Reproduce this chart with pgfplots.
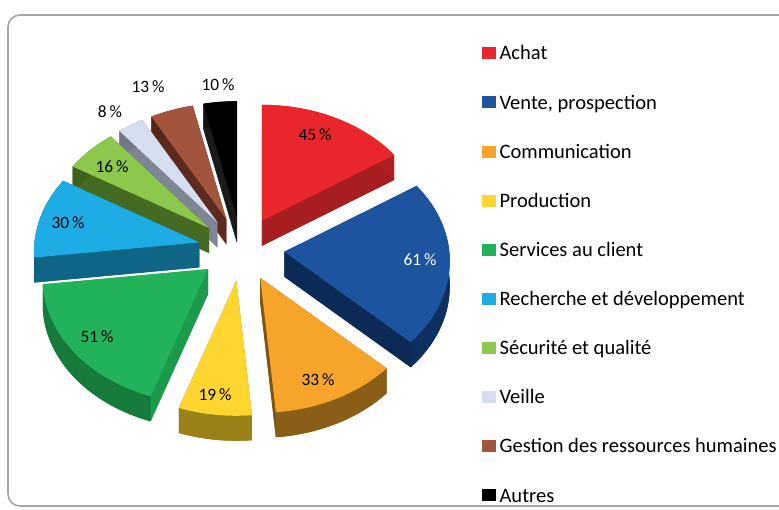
\documentclass[border=0pt]{standalone}
\usepackage{pgfplots}
\pgfplotsset{compat=1.18}
\usepackage{pgfplotstable}
\usepackage{fontspec}
\setmainfont{Carlito}

\definecolor{top0}{HTML}{E8262B}\definecolor{side0}{HTML}{A81D1F}\definecolor{wall0}{HTML}{B01E20}
\definecolor{top1}{HTML}{1D54A0}\definecolor{side1}{HTML}{0B2A55}\definecolor{wall1}{HTML}{0E3060}
\definecolor{top2}{HTML}{F6A52A}\definecolor{side2}{HTML}{7D5512}\definecolor{wall2}{HTML}{8A5E16}
\definecolor{top3}{HTML}{FFD530}\definecolor{side3}{HTML}{8A7417}\definecolor{wall3}{HTML}{9A8219}
\definecolor{top4}{HTML}{22B25A}\definecolor{side4}{HTML}{1A9A4A}\definecolor{wall4}{HTML}{157A3C}
\definecolor{top5}{HTML}{1DADE4}\definecolor{side5}{HTML}{0E6585}\definecolor{wall5}{HTML}{0B5A78}
\definecolor{top6}{HTML}{8CC84B}\definecolor{side6}{HTML}{456B22}\definecolor{wall6}{HTML}{3E611E}
\definecolor{top7}{HTML}{D5DEEE}\definecolor{side7}{HTML}{7E8594}\definecolor{wall7}{HTML}{707786}
\definecolor{top8}{HTML}{A3543C}\definecolor{side8}{HTML}{5C2A1E}\definecolor{wall8}{HTML}{52261B}
\definecolor{top9}{HTML}{000000}\definecolor{side9}{HTML}{1A1A1A}\definecolor{wall9}{HTML}{111111}

% values (%) and label positions (pixels, from top-left)
\pgfplotstableread[col sep=semicolon]{
val;lx;ly;lcol
45;315;135;black
61;420;260;white
33;318;380;black
19;215;395;black
51;97;337;black
30;68;223;black
16;112;167;black
8;110;112;black
13;148;87;black
10;218;85;black
}\piedata

% geometry in pixel units (axis units, y up)
\def\pcx{241.5}\def\pcy{261}      % projected pie centre
\def\pA{165}\def\pB{124.8}\def\pp{0.0758} % perspective circle
\def\pex{43}\def\pey{32}\def\ph{25}
\pgfmathsetmacro\eax{\pA/sqrt(1-\pp*\pp)}
\pgfmathsetmacro\eay{\pB/(1-\pp*\pp)}
\pgfmathsetmacro\ecy{-\pB*\pp/(1-\pp*\pp)}
\pgfmathsetmacro\RXpt{\eax*0.75}
\pgfmathsetmacro\RYpt{\eay*0.75}
\newcommand\labfont{\fontsize{13}{15}\selectfont}

% rim point of angle #1 -> \rX,\rY (relative) and ellipse parameter \rT
\newcommand\rimpt[1]{%
  \pgfmathsetmacro\rden{1+\pp*sin(#1)}%
  \pgfmathsetmacro\rX{\pA*cos(#1)/\rden}%
  \pgfmathsetmacro\rY{\pB*sin(#1)/\rden}%
  \pgfmathsetmacro\rT{atan2((\rY-\ecy)/\eay, \rX/\eax)}%
  \pgfmathsetmacro\rT{\rT+360*round((#1-\rT)/360)}%
}

\pgfmathsetmacro\total{0}
\pgfplotsforeachungrouped \idx in {0,...,9}{%
  \pgfplotstablegetelem{\idx}{val}\of\piedata
  \pgfmathsetmacro\total{\total+\pgfplotsretval}%
}
\def\cum{0}
\pgfplotsforeachungrouped \idx in {0,...,9}{%
  \pgfplotstablegetelem{\idx}{val}\of\piedata \let\vv\pgfplotsretval
  \pgfmathsetmacro\aA{90-360*(\cum/\total)}%
  \pgfmathsetmacro\aB{90-360*((\cum+\vv)/\total)}%
  \pgfmathsetmacro\cum{\cum+\vv}%
  \pgfmathsetmacro\am{(\aA+\aB)/2}%
  \pgfmathsetmacro\Cx{\pcx+\pex*cos(\am)}%
  \pgfmathsetmacro\Cy{\pcy+\pey*sin(\am)}%
  \pgfmathsetmacro\Cyb{\Cy-\ph}%
  \rimpt{\aA}%
  \pgfmathsetmacro\Ax{\Cx+\rX}\pgfmathsetmacro\Ay{\Cy+\rY}\let\tA\rT
  \pgfmathsetmacro\Ayb{\Ay-\ph}%
  \rimpt{\aB}%
  \pgfmathsetmacro\Bx{\Cx+\rX}\pgfmathsetmacro\By{\Cy+\rY}\let\tB\rT
  \pgfmathsetmacro\Byb{\By-\ph}%
  \pgfplotstablegetelem{\idx}{lx}\of\piedata \let\lx\pgfplotsretval
  \pgfplotstablegetelem{\idx}{ly}\of\piedata \let\ly\pgfplotsretval
  \pgfplotstablegetelem{\idx}{lcol}\of\piedata \let\lcol\pgfplotsretval
  \pgfmathsetmacro\lyy{510-\ly}%
  \expandafter\xdef\csname slice\idx\endcsname{%
    \noexpand\fill[side\idx] (axis cs:\Cx,\Cyb) -- (axis cs:\Ax,\Ayb) arc[start angle=\tA, end angle=\tB, x radius=\RXpt pt, y radius=\RYpt pt] -- cycle;
    \noexpand\fill[side\idx] (axis cs:\Cx,\Cy) -- (axis cs:\Ax,\Ay) -- (axis cs:\Ax,\Ayb) -- (axis cs:\Cx,\Cyb) -- cycle;
    \noexpand\fill[side\idx] (axis cs:\Cx,\Cy) -- (axis cs:\Bx,\By) -- (axis cs:\Bx,\Byb) -- (axis cs:\Cx,\Cyb) -- cycle;
    \noexpand\fill[wall\idx] (axis cs:\Ax,\Ay) arc[start angle=\tA, end angle=\tB, x radius=\RXpt pt, y radius=\RYpt pt] -- (axis cs:\Bx,\Byb) arc[start angle=\tB, end angle=\tA, x radius=\RXpt pt, y radius=\RYpt pt] -- cycle;
    \noexpand\fill[top\idx] (axis cs:\Cx,\Cy) -- (axis cs:\Ax,\Ay) arc[start angle=\tA, end angle=\tB, x radius=\RXpt pt, y radius=\RYpt pt] -- cycle;
  }%
  \expandafter\xdef\csname lab\idx\endcsname{%
    \noexpand\node[text=\lcol, font=\noexpand\labfont, inner sep=0pt] at (axis cs:\lx,\lyy) {\vv\noexpand\,\noexpand\%};
  }%
}

\begin{document}
\begin{tikzpicture}
\begin{axis}[
  x=0.75pt, y=0.75pt,
  xmin=0, xmax=779, ymin=0, ymax=510,
  hide axis, clip=false,
  legend cell align=left,
  legend image code/.code={\fill[#1, draw=none] (0pt,-3.5pt) rectangle (10pt,5.5pt);},
  legend style={at={(axis cs:482,465)}, anchor=north west, draw=none, fill=none,
    inner sep=0pt, row sep=22.85pt,
    font=\fontsize{15.4}{18}\selectfont,
    nodes={inner ysep=0pt, inner xsep=3pt, text height=11pt, text depth=3pt}},
]
\draw[rounded corners=9pt, color=black!35, line width=1.2pt] (axis cs:8,495) rectangle (axis cs:800,4);
\csname slice9\endcsname
\csname slice8\endcsname
\csname slice0\endcsname
\csname slice7\endcsname
\csname slice6\endcsname
\csname slice5\endcsname
\csname slice1\endcsname
\csname slice4\endcsname
\csname slice2\endcsname
\csname slice3\endcsname
\csname lab0\endcsname\csname lab1\endcsname\csname lab2\endcsname\csname lab3\endcsname\csname lab4\endcsname
\csname lab5\endcsname\csname lab6\endcsname\csname lab7\endcsname\csname lab8\endcsname\csname lab9\endcsname
\addlegendimage{fill=top0}\addlegendentry{Achat}
\addlegendimage{fill=top1}\addlegendentry{Vente, prospection}
\addlegendimage{fill=top2}\addlegendentry{Communication}
\addlegendimage{fill=top3}\addlegendentry{Production}
\addlegendimage{fill=top4}\addlegendentry{Services au client}
\addlegendimage{fill=top5}\addlegendentry{Recherche et développement}
\addlegendimage{fill=top6}\addlegendentry{Sécurité et qualité}
\addlegendimage{fill=top7}\addlegendentry{Veille}
\addlegendimage{fill=top8}\addlegendentry{Gestion des ressources humaines}
\addlegendimage{fill=top9}\addlegendentry{Autres}
\coordinate (LL) at (axis cs:0,0);
\coordinate (UR) at (axis cs:779,510);
\end{axis}
\pgfresetboundingbox
\useasboundingbox (LL) rectangle (UR);
\end{tikzpicture}
\end{document}
